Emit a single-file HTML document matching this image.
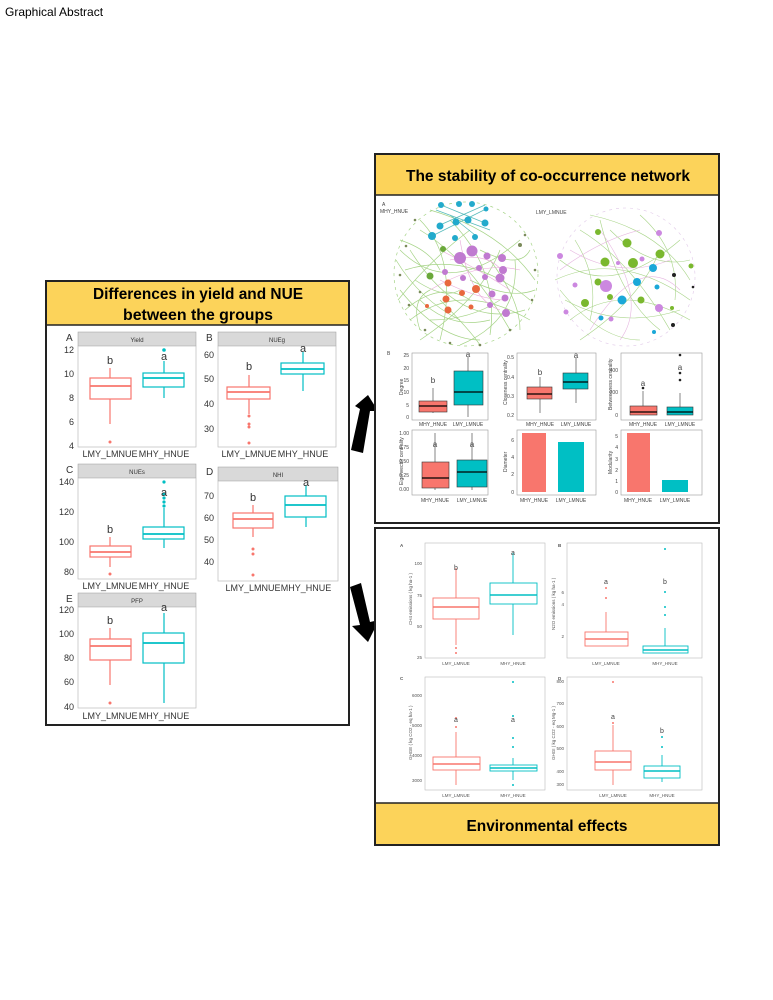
<!DOCTYPE html>
<html><head><meta charset="utf-8"><style>
html,body{margin:0;padding:0;background:#fff;}
svg{display:block;font-family:"Liberation Sans",sans-serif;}
</style></head><body>
<svg width="773" height="1000" viewBox="0 0 773 1000" xmlns="http://www.w3.org/2000/svg">
<text x="5" y="16" font-size="12" fill="#000">Graphical Abstract</text>

<!-- LEFT BOX -->
<rect x="46" y="281" width="303" height="444" fill="#fff" stroke="#222" stroke-width="2"/>
<rect x="47" y="282" width="301" height="43" fill="#fcd35a"/>
<line x1="46" y1="325" x2="349" y2="325" stroke="#222" stroke-width="1.5"/>
<text x="198" y="299" font-size="16" font-weight="bold" text-anchor="middle" textLength="210" lengthAdjust="spacingAndGlyphs">Differences in yield and NUE</text>
<text x="198" y="320" font-size="16" font-weight="bold" text-anchor="middle" textLength="150" lengthAdjust="spacingAndGlyphs">between the groups</text>

<g font-size="9" fill="#333">
<!-- Panel A -->
<text x="66" y="341" font-size="10">A</text>
<rect x="78" y="332" width="118" height="14" fill="#d9d9d9" stroke="#999" stroke-width="0.5"/>
<text x="137" y="342" font-size="6" text-anchor="middle">Yield</text>
<rect x="78" y="346" width="118" height="101" fill="#fff" stroke="#bbb" stroke-width="0.7"/>
<g text-anchor="end"><text x="74" y="353">12</text><text x="74" y="377">10</text><text x="74" y="401">8</text><text x="74" y="425">6</text><text x="74" y="449">4</text></g>
<text x="110" y="457" text-anchor="middle">LMY_LMNUE</text><text x="164" y="457" text-anchor="middle">MHY_HNUE</text>
<g stroke="#f8766d" fill="none" stroke-width="1.2"><line x1="110" y1="368" x2="110" y2="378"/><line x1="110" y1="399" x2="110" y2="424"/><rect x="90" y="378" width="41" height="21"/><line x1="90" y1="386" x2="131" y2="386" stroke-width="1.8"/></g>
<circle cx="110" cy="442" r="1.5" fill="#f8766d"/>
<g stroke="#00bfc4" fill="none" stroke-width="1.2"><line x1="164" y1="361" x2="164" y2="373"/><line x1="164" y1="387" x2="164" y2="398"/><rect x="143" y="373" width="41" height="14"/><line x1="143" y1="378" x2="184" y2="378" stroke-width="1.8"/></g>
<circle cx="164" cy="350" r="1.8" fill="#00bfc4"/>
<text x="110" y="364" font-size="11" text-anchor="middle">b</text><text x="164" y="360" font-size="11" text-anchor="middle">a</text>

<!-- Panel B -->
<text x="206" y="341" font-size="10">B</text>
<rect x="218" y="332" width="118" height="14" fill="#d9d9d9" stroke="#999" stroke-width="0.5"/>
<text x="277" y="342" font-size="6" text-anchor="middle">NUEg</text>
<rect x="218" y="346" width="118" height="101" fill="#fff" stroke="#bbb" stroke-width="0.7"/>
<g text-anchor="end"><text x="214" y="358">60</text><text x="214" y="382">50</text><text x="214" y="407">40</text><text x="214" y="432">30</text></g>
<text x="249" y="457" text-anchor="middle">LMY_LMNUE</text><text x="303" y="457" text-anchor="middle">MHY_HNUE</text>
<g stroke="#f8766d" fill="none" stroke-width="1.2"><line x1="249" y1="375" x2="249" y2="387"/><line x1="249" y1="399" x2="249" y2="414"/><rect x="227" y="387" width="43" height="12"/><line x1="227" y1="392" x2="270" y2="392" stroke-width="1.8"/></g>
<g fill="#f8766d"><circle cx="249" cy="416" r="1.5"/><circle cx="249" cy="424" r="1.5"/><circle cx="249" cy="427" r="1.5"/><circle cx="249" cy="443" r="1.5"/></g>
<g stroke="#00bfc4" fill="none" stroke-width="1.2"><line x1="303" y1="352" x2="303" y2="363"/><line x1="303" y1="374" x2="303" y2="391"/><rect x="281" y="363" width="43" height="11"/><line x1="281" y1="369" x2="324" y2="369" stroke-width="1.8"/></g>
<text x="249" y="370" font-size="11" text-anchor="middle">b</text><text x="303" y="352" font-size="11" text-anchor="middle">a</text>

<!-- Panel C -->
<text x="66" y="473" font-size="10">C</text>
<rect x="78" y="464" width="118" height="14" fill="#d9d9d9" stroke="#999" stroke-width="0.5"/>
<text x="137" y="474" font-size="6" text-anchor="middle">NUEs</text>
<rect x="78" y="478" width="118" height="101" fill="#fff" stroke="#bbb" stroke-width="0.7"/>
<g text-anchor="end"><text x="74" y="485">140</text><text x="74" y="515">120</text><text x="74" y="545">100</text><text x="74" y="575">80</text></g>
<text x="110" y="589" text-anchor="middle">LMY_LMNUE</text><text x="164" y="589" text-anchor="middle">MHY_HNUE</text>
<g stroke="#f8766d" fill="none" stroke-width="1.2"><line x1="110" y1="537" x2="110" y2="546"/><line x1="110" y1="557" x2="110" y2="567"/><rect x="90" y="546" width="41" height="11"/><line x1="90" y1="552" x2="131" y2="552" stroke-width="1.8"/></g>
<circle cx="110" cy="574" r="1.5" fill="#f8766d"/>
<g stroke="#00bfc4" fill="none" stroke-width="1.2"><line x1="164" y1="508" x2="164" y2="527"/><line x1="164" y1="539" x2="164" y2="548"/><rect x="143" y="527" width="41" height="12"/><line x1="143" y1="534" x2="184" y2="534" stroke-width="1.8"/></g>
<g fill="#00bfc4"><circle cx="164" cy="482" r="1.6"/><circle cx="164" cy="494" r="1.6"/><circle cx="164" cy="498" r="1.6"/><circle cx="164" cy="502" r="1.6"/><circle cx="164" cy="506" r="1.6"/></g>
<text x="110" y="533" font-size="11" text-anchor="middle">b</text><text x="164" y="496" font-size="11" text-anchor="middle">a</text>

<!-- Panel D -->
<text x="206" y="475" font-size="10">D</text>
<rect x="218" y="467" width="120" height="14" fill="#d9d9d9" stroke="#999" stroke-width="0.5"/>
<text x="278" y="477" font-size="6" text-anchor="middle">NHI</text>
<rect x="218" y="481" width="120" height="100" fill="#fff" stroke="#bbb" stroke-width="0.7"/>
<g text-anchor="end"><text x="214" y="499">70</text><text x="214" y="521">60</text><text x="214" y="543">50</text><text x="214" y="565">40</text></g>
<text x="253" y="591" text-anchor="middle">LMY_LMNUE</text><text x="306" y="591" text-anchor="middle">MHY_HNUE</text>
<g stroke="#f8766d" fill="none" stroke-width="1.2"><line x1="253" y1="505" x2="253" y2="513"/><line x1="253" y1="528" x2="253" y2="537"/><rect x="233" y="513" width="40" height="15"/><line x1="233" y1="519" x2="273" y2="519" stroke-width="1.8"/></g>
<g fill="#f8766d"><circle cx="253" cy="549" r="1.5"/><circle cx="253" cy="554" r="1.5"/><circle cx="253" cy="575" r="1.5"/></g>
<g stroke="#00bfc4" fill="none" stroke-width="1.2"><line x1="306" y1="485" x2="306" y2="496"/><line x1="306" y1="517" x2="306" y2="527"/><rect x="285" y="496" width="41" height="21"/><line x1="285" y1="505" x2="326" y2="505" stroke-width="1.8"/></g>
<text x="253" y="501" font-size="11" text-anchor="middle">b</text><text x="306" y="486" font-size="11" text-anchor="middle">a</text>

<!-- Panel E -->
<text x="66" y="602" font-size="10">E</text>
<rect x="78" y="593" width="118" height="14" fill="#d9d9d9" stroke="#999" stroke-width="0.5"/>
<text x="137" y="603" font-size="6" text-anchor="middle">PFP</text>
<rect x="78" y="607" width="118" height="101" fill="#fff" stroke="#bbb" stroke-width="0.7"/>
<g text-anchor="end"><text x="74" y="613">120</text><text x="74" y="637">100</text><text x="74" y="661">80</text><text x="74" y="685">60</text><text x="74" y="710">40</text></g>
<text x="110" y="719" text-anchor="middle">LMY_LMNUE</text><text x="164" y="719" text-anchor="middle">MHY_HNUE</text>
<g stroke="#f8766d" fill="none" stroke-width="1.2"><line x1="110" y1="628" x2="110" y2="639"/><line x1="110" y1="660" x2="110" y2="685"/><rect x="90" y="639" width="41" height="21"/><line x1="90" y1="646" x2="131" y2="646" stroke-width="1.8"/></g>
<circle cx="110" cy="703" r="1.5" fill="#f8766d"/>
<g stroke="#00bfc4" fill="none" stroke-width="1.2"><line x1="164" y1="613" x2="164" y2="633"/><line x1="164" y1="663" x2="164" y2="703"/><rect x="143" y="633" width="41" height="30"/><line x1="143" y1="643" x2="184" y2="643" stroke-width="1.8"/></g>
<text x="110" y="624" font-size="11" text-anchor="middle">b</text><text x="164" y="611" font-size="11" text-anchor="middle">a</text>
</g>

<!-- ARROWS -->
<g fill="#000">
<polygon points="351,450 363,453 370,411 378,411 368,395 355,406 360,409"/>
<polygon points="350,587 361,583 370,622 379,620 368,642 352,626 360,625"/>
</g>

<!-- RIGHT TOP BOX -->
<rect x="375" y="154" width="344" height="369" fill="#fff" stroke="#222" stroke-width="2"/>
<rect x="376" y="155" width="342" height="40" fill="#fcd35a"/>
<line x1="375" y1="195" x2="719" y2="195" stroke="#222" stroke-width="1.5"/>
<text x="548" y="181" font-size="16" font-weight="bold" text-anchor="middle" textLength="284" lengthAdjust="spacingAndGlyphs">The stability of co-occurrence network</text>
<g font-size="5" fill="#444">
<text x="382" y="206">A</text><text x="380" y="213">MHY_HNUE</text><text x="536" y="214">LMY_LMNUE</text>
</g>
<!-- network left -->
<g fill="none" stroke="#9ccf7a" stroke-width="0.7" opacity="0.9">
<circle cx="466" cy="274" r="72" stroke-dasharray="3 4"/>
<path d="M400 250 Q450 300 520 240"/><path d="M410 320 Q460 280 530 320"/><path d="M420 230 Q470 260 510 330"/>
<path d="M400 290 Q440 340 480 340"/><path d="M430 210 Q500 230 535 280"/><path d="M420 340 Q480 300 500 250"/>
<path d="M405 270 Q470 250 530 300"/><path d="M440 340 Q460 260 420 220"/><path d="M460 345 Q520 320 515 260"/>
<path d="M398 300 Q430 260 470 230"/><path d="M450 220 Q500 270 490 335"/><path d="M410 250 Q460 330 525 310"/>
<path d="M396 260 Q420 300 460 320"/><path d="M405 310 Q440 280 470 300"/><path d="M420 300 Q450 330 490 320"/>
<path d="M430 320 Q470 320 500 300"/><path d="M480 250 Q520 270 530 250"/><path d="M470 280 Q510 300 535 290"/>
<path d="M415 280 Q445 300 460 290"/><path d="M400 240 Q430 250 440 270"/><path d="M490 260 Q520 300 520 330"/>
<path d="M420 330 Q410 300 430 290"/><path d="M440 300 Q470 330 480 345"/>
</g>
<g fill="none" stroke="#e8a8d8" stroke-width="0.6"><path d="M440 250 Q480 270 510 290"/><path d="M460 240 Q470 300 500 310"/><path d="M430 290 Q480 260 520 270"/><path d="M450 260 Q490 250 505 275"/><path d="M440 280 Q480 300 505 300"/></g>
<g stroke="#5bb" stroke-width="0.7"><line x1="436" y1="210" x2="490" y2="230"/><line x1="440" y1="225" x2="485" y2="205"/><line x1="450" y1="215" x2="475" y2="235"/><line x1="432" y1="236" x2="486" y2="209"/><line x1="441" y1="205" x2="485" y2="223"/></g>
<g fill="#22aacc"><circle cx="441" cy="205" r="3"/><circle cx="459" cy="204" r="3"/><circle cx="472" cy="204" r="3"/><circle cx="486" cy="209" r="2.5"/><circle cx="440" cy="226" r="3.5"/><circle cx="456" cy="222" r="3.5"/><circle cx="468" cy="220" r="3.5"/><circle cx="485" cy="223" r="3.5"/><circle cx="432" cy="236" r="4"/><circle cx="455" cy="238" r="3"/><circle cx="475" cy="237" r="3"/></g>
<g fill="#c07ad0"><circle cx="472" cy="251" r="5.5"/><circle cx="460" cy="258" r="6"/><circle cx="487" cy="256" r="3.5"/><circle cx="502" cy="258" r="4"/><circle cx="479" cy="268" r="3"/><circle cx="503" cy="270" r="4"/><circle cx="485" cy="277" r="3"/><circle cx="500" cy="278" r="4.5"/><circle cx="463" cy="278" r="3"/><circle cx="492" cy="294" r="3.5"/><circle cx="490" cy="305" r="3"/><circle cx="505" cy="298" r="3.5"/><circle cx="506" cy="313" r="4"/><circle cx="445" cy="272" r="3"/></g>
<g fill="#e8683e"><circle cx="448" cy="283" r="3.5"/><circle cx="446" cy="299" r="3.5"/><circle cx="476" cy="289" r="4"/><circle cx="462" cy="293" r="3"/><circle cx="448" cy="310" r="3.5"/><circle cx="471" cy="307" r="2.5"/><circle cx="427" cy="306" r="2"/></g>
<g fill="#6aa83a"><circle cx="443" cy="249" r="3"/><circle cx="430" cy="276" r="3.5"/></g>
<g fill="#7a8a5a"><circle cx="406" cy="246" r="1.3"/><circle cx="400" cy="275" r="1.3"/><circle cx="409" cy="305" r="1.3"/><circle cx="425" cy="330" r="1.3"/><circle cx="450" cy="343" r="1.3"/><circle cx="480" cy="345" r="1.3"/><circle cx="510" cy="330" r="1.3"/><circle cx="532" cy="300" r="1.3"/><circle cx="535" cy="270" r="1.3"/><circle cx="525" cy="235" r="1.3"/><circle cx="415" cy="220" r="1.3"/><circle cx="420" cy="292" r="1.3"/><circle cx="520" cy="245" r="2"/></g>
<!-- network right -->
<g fill="none" stroke="#a8d488" stroke-width="0.6">
<circle cx="626" cy="277" r="69" stroke="#e0c8e8" stroke-dasharray="3 4"/>
<path d="M560 260 Q610 300 680 240"/><path d="M570 320 Q620 280 690 320"/><path d="M580 230 Q630 260 670 330"/>
<path d="M560 290 Q600 340 640 340"/><path d="M590 215 Q660 230 690 280"/><path d="M580 340 Q640 300 660 250"/>
<path d="M600 220 Q620 300 660 330"/><path d="M555 280 Q620 250 690 300"/>
<path d="M575 240 Q600 280 590 320"/><path d="M640 215 Q680 250 675 300"/><path d="M565 300 Q620 330 680 310"/><path d="M610 230 Q650 270 690 260"/>
</g>
<g fill="none" stroke="#e6b6e0" stroke-width="0.6"><path d="M570 250 Q620 280 670 260"/><path d="M590 330 Q640 250 680 290"/><path d="M600 230 Q650 300 620 340"/><path d="M560 270 Q600 240 640 230"/></g>
<g fill="#7ab82e"><circle cx="598" cy="232" r="3"/><circle cx="627" cy="243" r="4.5"/><circle cx="660" cy="254" r="4.5"/><circle cx="605" cy="262" r="4.5"/><circle cx="633" cy="263" r="5"/><circle cx="598" cy="282" r="3.5"/><circle cx="641" cy="300" r="3.5"/><circle cx="585" cy="303" r="4"/><circle cx="610" cy="297" r="3"/><circle cx="691" cy="266" r="2.5"/><circle cx="672" cy="308" r="2"/></g>
<g fill="#cc88e0"><circle cx="606" cy="286" r="6"/><circle cx="659" cy="308" r="4"/><circle cx="659" cy="233" r="3"/><circle cx="560" cy="256" r="3"/><circle cx="575" cy="285" r="2.5"/><circle cx="566" cy="312" r="2.5"/><circle cx="611" cy="319" r="2.5"/><circle cx="642" cy="259" r="2.5"/><circle cx="618" cy="263" r="2"/></g>
<g fill="#1aa8d8"><circle cx="653" cy="268" r="4"/><circle cx="637" cy="282" r="4"/><circle cx="622" cy="300" r="4.5"/><circle cx="657" cy="287" r="2.5"/><circle cx="601" cy="318" r="2.5"/><circle cx="654" cy="332" r="2"/></g>
<g fill="#222"><circle cx="674" cy="275" r="2"/><circle cx="673" cy="325" r="2"/><circle cx="693" cy="287" r="1.3"/></g>

<!-- network boxplots -->
<g font-size="5" fill="#444">
<text x="387" y="355">B</text>
<rect x="412" y="353" width="76" height="67" fill="#fff" stroke="#999" stroke-width="0.6"/>
<text x="403" y="395" transform="rotate(-90 403 395)">Degree</text>
<g text-anchor="end"><text x="409" y="357">25</text><text x="409" y="370">20</text><text x="409" y="382">15</text><text x="409" y="394">10</text><text x="409" y="407">5</text><text x="409" y="419">0</text></g>
<line x1="433" y1="388" x2="433" y2="413" stroke="#333" stroke-width="0.6"/><rect x="419" y="401" width="28" height="11" fill="#f8766d" stroke="#333" stroke-width="0.6"/><line x1="419" y1="406" x2="447" y2="406" stroke="#000" stroke-width="1.2"/>
<line x1="468" y1="357" x2="468" y2="417" stroke="#333" stroke-width="0.6"/><rect x="454" y="371" width="29" height="34" fill="#00bfc4" stroke="#333" stroke-width="0.6"/><line x1="454" y1="392" x2="483" y2="392" stroke="#000" stroke-width="1.2"/>
<text x="433" y="383" font-size="8" text-anchor="middle">b</text><text x="468" y="357" font-size="8" text-anchor="middle">a</text>
<text x="433" y="426" text-anchor="middle">MHY_HNUE</text><text x="468" y="426" text-anchor="middle">LMY_LMNUE</text>

<rect x="517" y="353" width="79" height="67" fill="#fff" stroke="#999" stroke-width="0.6"/>
<text x="507" y="405" transform="rotate(-90 507 405)">Closeness centrality</text>
<g text-anchor="end"><text x="514" y="359">0.5</text><text x="514" y="379">0.4</text><text x="514" y="398">0.3</text><text x="514" y="417">0.2</text></g>
<line x1="540" y1="377" x2="540" y2="413" stroke="#333" stroke-width="0.6"/><rect x="527" y="387" width="25" height="12" fill="#f8766d" stroke="#333" stroke-width="0.6"/><line x1="527" y1="394" x2="552" y2="394" stroke="#000" stroke-width="1.2"/>
<line x1="576" y1="358" x2="576" y2="403" stroke="#333" stroke-width="0.6"/><rect x="563" y="373" width="25" height="16" fill="#00bfc4" stroke="#333" stroke-width="0.6"/><line x1="563" y1="382" x2="588" y2="382" stroke="#000" stroke-width="1.2"/>
<text x="540" y="375" font-size="8" text-anchor="middle">b</text><text x="576" y="358" font-size="8" text-anchor="middle">a</text>
<text x="540" y="426" text-anchor="middle">MHY_HNUE</text><text x="576" y="426" text-anchor="middle">LMY_LMNUE</text>

<rect x="621" y="353" width="81" height="67" fill="#fff" stroke="#999" stroke-width="0.6"/>
<text x="612" y="410" transform="rotate(-90 612 410)">Betweenness centrality</text>
<g text-anchor="end"><text x="618" y="372">400</text><text x="618" y="394">200</text><text x="618" y="417">0</text></g>
<line x1="643" y1="391" x2="643" y2="406" stroke="#333" stroke-width="0.6"/><rect x="630" y="406" width="27" height="9" fill="#f8766d" stroke="#333" stroke-width="0.6"/><line x1="630" y1="412" x2="657" y2="412" stroke="#000" stroke-width="1.2"/>
<line x1="680" y1="393" x2="680" y2="407" stroke="#333" stroke-width="0.6"/><rect x="667" y="407" width="26" height="8" fill="#00bfc4" stroke="#333" stroke-width="0.6"/><line x1="667" y1="412" x2="693" y2="412" stroke="#000" stroke-width="1.2"/>
<g fill="#222"><circle cx="643" cy="388" r="1.3"/><circle cx="680" cy="373" r="1.3"/><circle cx="680" cy="380" r="1.3"/><circle cx="680" cy="355" r="1.3"/></g>
<text x="643" y="386" font-size="8" text-anchor="middle">a</text><text x="680" y="370" font-size="8" text-anchor="middle">a</text>
<text x="643" y="426" text-anchor="middle">MHY_HNUE</text><text x="680" y="426" text-anchor="middle">LMY_LMNUE</text>

<rect x="412" y="430" width="76" height="65" fill="#fff" stroke="#999" stroke-width="0.6"/>
<text x="403" y="485" transform="rotate(-90 403 485)">Eigenvector centrality</text>
<g text-anchor="end"><text x="409" y="435">1.00</text><text x="409" y="449">0.75</text><text x="409" y="463">0.50</text><text x="409" y="477">0.25</text><text x="409" y="491">0.00</text></g>
<line x1="435" y1="433" x2="435" y2="490" stroke="#333" stroke-width="0.6"/><rect x="422" y="462" width="27" height="26" fill="#f8766d" stroke="#333" stroke-width="0.6"/><line x1="422" y1="478" x2="449" y2="478" stroke="#000" stroke-width="1.2"/>
<line x1="472" y1="433" x2="472" y2="490" stroke="#333" stroke-width="0.6"/><rect x="457" y="460" width="30" height="27" fill="#00bfc4" stroke="#333" stroke-width="0.6"/><line x1="457" y1="472" x2="487" y2="472" stroke="#000" stroke-width="1.2"/>
<text x="435" y="447" font-size="8" text-anchor="middle">a</text><text x="472" y="447" font-size="8" text-anchor="middle">a</text>
<text x="435" y="502" text-anchor="middle">MHY_HNUE</text><text x="472" y="502" text-anchor="middle">LMY_LMNUE</text>

<rect x="517" y="430" width="79" height="65" fill="#fff" stroke="#999" stroke-width="0.6"/>
<text x="507" y="472" transform="rotate(-90 507 472)">Diameter</text>
<g text-anchor="end"><text x="514" y="494">0</text><text x="514" y="476">2</text><text x="514" y="459">4</text><text x="514" y="442">6</text></g>
<rect x="522" y="433" width="24" height="59" fill="#f8766d"/><rect x="558" y="442" width="26" height="50" fill="#00bfc4"/>
<text x="534" y="502" text-anchor="middle">MHY_HNUE</text><text x="571" y="502" text-anchor="middle">LMY_LMNUE</text>

<rect x="621" y="430" width="81" height="65" fill="#fff" stroke="#999" stroke-width="0.6"/>
<text x="612" y="474" transform="rotate(-90 612 474)">Modularity</text>
<g text-anchor="end"><text x="618" y="494">0</text><text x="618" y="483">1</text><text x="618" y="472">2</text><text x="618" y="461">3</text><text x="618" y="449">4</text><text x="618" y="438">5</text></g>
<rect x="627" y="433" width="23" height="59" fill="#f8766d"/><rect x="662" y="480" width="26" height="12" fill="#00bfc4"/>
<text x="638" y="502" text-anchor="middle">MHY_HNUE</text><text x="675" y="502" text-anchor="middle">LMY_LMNUE</text>
</g>

<!-- RIGHT BOTTOM BOX -->
<rect x="375" y="528" width="344" height="317" fill="#fff" stroke="#222" stroke-width="2"/>
<rect x="376" y="803" width="342" height="41" fill="#fcd35a"/>
<line x1="375" y1="803" x2="719" y2="803" stroke="#222" stroke-width="1.5"/>
<text x="547" y="831" font-size="16" font-weight="bold" text-anchor="middle" textLength="161" lengthAdjust="spacingAndGlyphs">Environmental effects</text>

<g font-size="4.5" fill="#555">
<text x="400" y="547" font-weight="bold">A</text><text x="558" y="547" font-weight="bold">B</text>
<text x="400" y="680" font-weight="bold">C</text><text x="558" y="680" font-weight="bold">D</text>
<rect x="425" y="543" width="120" height="115" fill="#fff" stroke="#bbb" stroke-width="0.6"/>
<rect x="567" y="543" width="135" height="115" fill="#fff" stroke="#bbb" stroke-width="0.6"/>
<rect x="425" y="677" width="120" height="113" fill="#fff" stroke="#bbb" stroke-width="0.6"/>
<rect x="567" y="677" width="135" height="113" fill="#fff" stroke="#bbb" stroke-width="0.6"/>
<text x="412" y="625" transform="rotate(-90 412 625)">CH4 emissions ( kg ha-1 )</text>
<text x="555" y="630" transform="rotate(-90 555 630)">N2O emissions ( kg ha-1 )</text>
<text x="412" y="760" transform="rotate(-90 412 760)">GHGE ( kg CO2 - eq ha-1 )</text>
<text x="555" y="760" transform="rotate(-90 555 760)">GHGI ( kg CO2 - eq Mg-1 )</text>
<g text-anchor="end"><text x="422" y="565">100</text><text x="422" y="597">75</text><text x="422" y="628">50</text><text x="422" y="659">25</text>
<text x="564" y="594">6</text><text x="564" y="606">4</text><text x="564" y="638">2</text>
<text x="422" y="697">6000</text><text x="422" y="727">5000</text><text x="422" y="757">4000</text><text x="422" y="782">3000</text>
<text x="564" y="683">800</text><text x="564" y="705">700</text><text x="564" y="728">600</text><text x="564" y="750">500</text><text x="564" y="773">400</text><text x="564" y="786">300</text></g>
<g text-anchor="middle"><text x="456" y="665">LMY_LMNUE</text><text x="513" y="665">MHY_HNUE</text><text x="606" y="665">LMY_LMNUE</text><text x="665" y="665">MHY_HNUE</text>
<text x="456" y="797">LMY_LMNUE</text><text x="513" y="797">MHY_HNUE</text><text x="613" y="797">LMY_LMNUE</text><text x="662" y="797">MHY_HNUE</text></g>
</g>
<g fill="none" stroke-width="0.9">
<g stroke="#f8766d"><line x1="456" y1="568" x2="456" y2="598"/><line x1="456" y1="619" x2="456" y2="645"/><rect x="433" y="598" width="46" height="21"/><line x1="433" y1="607" x2="479" y2="607" stroke-width="1.4"/>
<line x1="606" y1="612" x2="606" y2="632"/><rect x="585" y="632" width="43" height="14"/><line x1="585" y1="639" x2="628" y2="639" stroke-width="1.4"/>
<line x1="456" y1="732" x2="456" y2="757"/><line x1="456" y1="770" x2="456" y2="785"/><rect x="433" y="757" width="47" height="13"/><line x1="433" y1="764" x2="480" y2="764" stroke-width="1.4"/>
<line x1="613" y1="725" x2="613" y2="751"/><line x1="613" y1="770" x2="613" y2="785"/><rect x="595" y="751" width="36" height="19"/><line x1="595" y1="762" x2="631" y2="762" stroke-width="1.4"/></g>
<g stroke="#00bfc4"><line x1="513" y1="553" x2="513" y2="583"/><line x1="513" y1="604" x2="513" y2="635"/><rect x="490" y="583" width="47" height="21"/><line x1="490" y1="595" x2="537" y2="595" stroke-width="1.4"/>
<line x1="665" y1="628" x2="665" y2="646"/><rect x="643" y="646" width="45" height="7"/><line x1="643" y1="650" x2="688" y2="650" stroke-width="1.4"/>
<line x1="513" y1="758" x2="513" y2="765"/><line x1="513" y1="771" x2="513" y2="780"/><rect x="490" y="765" width="47" height="6"/><line x1="490" y1="768" x2="537" y2="768" stroke-width="1.4"/>
<line x1="662" y1="755" x2="662" y2="766"/><line x1="662" y1="778" x2="662" y2="782"/><rect x="644" y="766" width="36" height="12"/><line x1="644" y1="771" x2="680" y2="771" stroke-width="1.4"/></g>
</g>
<g fill="#f8766d"><circle cx="456" cy="648" r="1"/><circle cx="456" cy="653" r="1"/><circle cx="606" cy="598" r="1"/><circle cx="606" cy="588" r="1"/><circle cx="456" cy="718" r="1"/><circle cx="456" cy="727" r="1"/><circle cx="613" cy="682" r="1"/><circle cx="613" cy="723" r="1"/></g>
<g fill="#00bfc4"><circle cx="665" cy="615" r="1"/><circle cx="665" cy="607" r="1"/><circle cx="665" cy="592" r="1"/><circle cx="665" cy="549" r="1"/><circle cx="513" cy="682" r="1"/><circle cx="513" cy="716" r="1"/><circle cx="513" cy="738" r="1"/><circle cx="513" cy="747" r="1"/><circle cx="513" cy="785" r="1"/><circle cx="662" cy="737" r="1"/><circle cx="662" cy="747" r="1"/></g>
<g font-size="7" fill="#444" text-anchor="middle"><text x="456" y="570">b</text><text x="513" y="555">a</text><text x="606" y="584">a</text><text x="665" y="584">b</text><text x="456" y="722">a</text><text x="513" y="722">a</text><text x="613" y="719">a</text><text x="662" y="733">b</text></g>
</svg>
</body></html>
